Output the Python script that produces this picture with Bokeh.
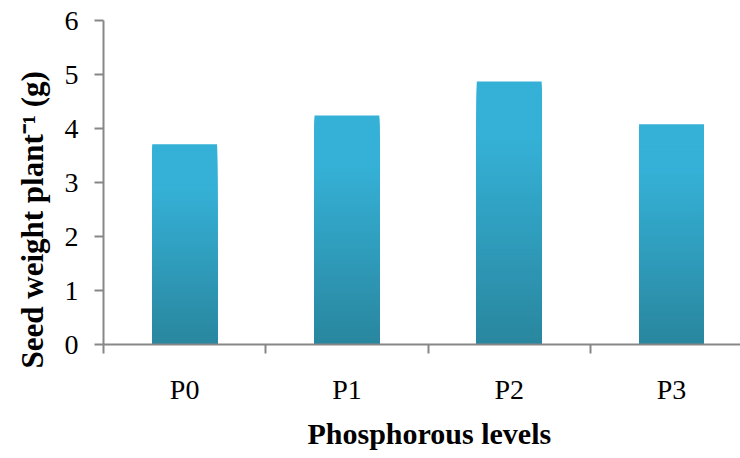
from bokeh.embed import file_html
from bokeh.models import FixedTicker, Range1d, Title
from bokeh.plotting import figure
from bokeh.resources import INLINE

# Seed weight per plant at each phosphorous level
levels = ["P0", "P1", "P2", "P3"]
seed_weight = [3.71, 4.24, 4.87, 4.08]
y_ticks = [0, 1, 2, 3, 4, 5, 6]

FONT = "Liberation Serif"
AXIS_GREY = "#878787"
TOP_RGB = (53, 177, 215)
BOTTOM_RGB = (41, 134, 158)

BAR_WIDTH = 0.4
N_STEPS = 80

p = figure(
    width=740, height=458,
    x_range=Range1d(0, 3.925), y_range=Range1d(0, 6),
    output_backend="svg", toolbar_location=None,
    min_border_left=103, min_border_right=0,
    min_border_top=20, min_border_bottom=114,
)
p.outline_line_color = None
p.xgrid.visible = False
p.ygrid.visible = False
p.background_fill_color = "white"
p.border_fill_color = "white"


def shade(frac_from_top):
    t = max(0.0, (frac_from_top - 0.2) / 0.8)
    return "#%02x%02x%02x" % tuple(
        int(round(a + (b - a) * t)) for a, b in zip(TOP_RGB, BOTTOM_RGB)
    )


# Vertical gradient: nested quads from the bar top downwards, each one
# starting at zero so no seams show between bands.
centers = [i + 0.5 for i in range(len(levels))]
for k in range(N_STEPS):
    f = 1.0 - k / N_STEPS
    p.quad(
        left=[c - BAR_WIDTH / 2 for c in centers],
        right=[c + BAR_WIDTH / 2 for c in centers],
        bottom=[0] * len(levels),
        top=[v * f for v in seed_weight],
        fill_color=shade(1.0 - f), line_color=None,
    )

# x axis: category names at the centres, small ticks on the boundaries
xa = p.xaxis[0]
xa.ticker = FixedTicker(ticks=centers, minor_ticks=list(range(len(levels) + 1)))
xa.major_label_overrides = {c: name for c, name in zip(centers, levels)}
xa.major_tick_out = 0
xa.major_tick_in = 0
xa.minor_tick_out = 9
xa.minor_tick_in = 0
xa.minor_tick_line_color = AXIS_GREY
xa.minor_tick_line_width = 2
xa.axis_line_color = AXIS_GREY
xa.axis_line_width = 2
xa.major_label_standoff = 20
xa.major_label_text_font = FONT
xa.major_label_text_font_size = "28px"
xa.major_label_text_color = "black"

ya = p.yaxis[0]
ya.ticker = FixedTicker(ticks=y_ticks, minor_ticks=[])
ya.major_tick_out = 9
ya.major_tick_in = 0
ya.major_tick_line_color = AXIS_GREY
ya.major_tick_line_width = 2
ya.axis_line_color = AXIS_GREY
ya.axis_line_width = 2
ya.major_label_standoff = 16
ya.major_label_text_font = FONT
ya.major_label_text_font_size = "28px"
ya.major_label_text_color = "black"

# Axis titles
p.add_layout(Title(
    text="Phosphorous levels", align="left", offset=204, standoff=14,
    text_font=FONT, text_font_style="bold", text_font_size="30px",
    text_color="black",
), "below")
p.add_layout(Title(
    text="Seed weight plant\u207b\u00b9 (g)", align="left", offset=-24,
    standoff=24,
    text_font=FONT, text_font_style="bold", text_font_size="31px",
    text_color="black",
), "left")

open("out.html", "w").write(file_html(p, INLINE))
